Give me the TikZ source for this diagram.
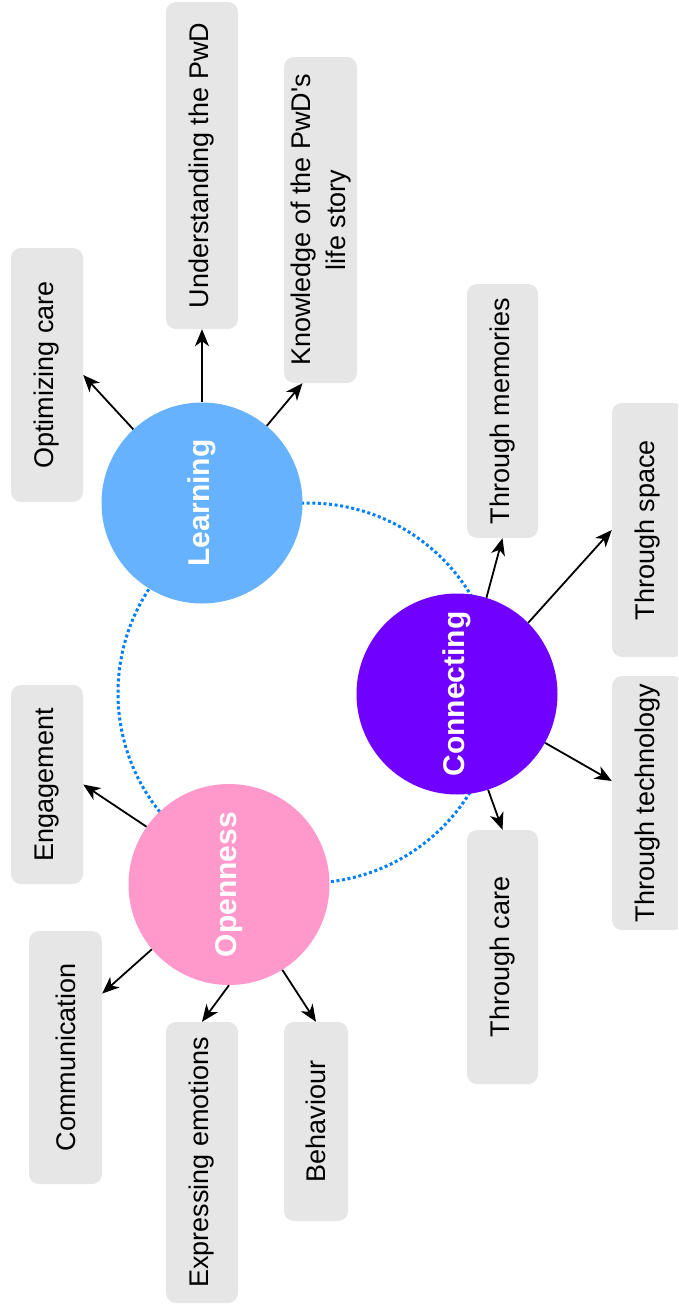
\documentclass[tikz,border=0pt]{standalone}
\usepackage{fontspec}
\setmainfont{Liberation Sans}
\usetikzlibrary{arrows.meta}
\definecolor{ringblue}{HTML}{007FFF}
\definecolor{learnblue}{HTML}{66B2FF}
\definecolor{connpurple}{HTML}{7000FF}
\definecolor{openpink}{HTML}{FF99CC}
\definecolor{boxgray}{HTML}{E6E6E6}
\begin{document}
\begin{tikzpicture}[x=1pt,y=-1pt,
  hub/.style={circle,minimum size=201pt,inner sep=0pt,text=white,
    font=\fontsize{30}{36}\selectfont\bfseries},
  leaf/.style={fill=boxgray,rounded corners=10pt,inner sep=0pt,
    font=\fontsize{27}{35}\selectfont},
  arr/.style={line width=1.8pt,-{Stealth[length=17pt,width=14pt,inset=5pt]}}]
\useasboundingbox (0,0) rectangle (678,1304);
\clip (0,0) rectangle (678,1304);

% dotted ring linking the three hubs
\draw[ringblue,line width=3pt,dash pattern=on 3pt off 2.6pt] (308,693) circle [radius=190pt];

% hubs
\node[hub,fill=learnblue]  (L) at (202,503) {\rotatebox{90}{Learning}};
\node[hub,fill=connpurple] (C) at (457,694) {\rotatebox{90}{Connecting}};
\node[hub,fill=openpink]   (O) at (229,884.5) {\rotatebox{90}{Openness}};

% leaves
\node[leaf,minimum width=72pt,minimum height=254pt] (opt) at (47,375) {\rotatebox{90}{Optimizing care}};
\node[leaf,minimum width=72pt,minimum height=327pt] (und) at (202,165.5) {\rotatebox{90}{Understanding the PwD}};
\node[leaf,minimum width=73pt,minimum height=326pt] (kno) at (320.5,220) {\rotatebox{90}{\begin{tabular}{@{}c@{}}Knowledge of the PwD\textquotesingle s\\life story\end{tabular}}};
\node[leaf,minimum width=71pt,minimum height=254pt] (mem) at (502.5,411) {\rotatebox{90}{Through memories}};
\node[leaf,minimum width=72pt,minimum height=254pt] (spc) at (648,530) {\rotatebox{90}{Through space}};
\node[leaf,minimum width=72pt,minimum height=254pt] (tec) at (648,803) {\rotatebox{90}{Through technology}};
\node[leaf,minimum width=71pt,minimum height=254pt] (car) at (502.5,957) {\rotatebox{90}{Through care}};
\node[leaf,minimum width=72pt,minimum height=199pt] (eng) at (47,784.5) {\rotatebox{90}{Engagement}};
\node[leaf,minimum width=73pt,minimum height=253pt] (com) at (65.5,1057.5) {\rotatebox{90}{Communication}};
\node[leaf,minimum width=72pt,minimum height=281pt] (exp) at (202,1162.5) {\rotatebox{90}{Expressing emotions}};
\node[leaf,minimum width=64pt,minimum height=199pt] (beh) at (316,1121.5) {\rotatebox{90}{Behaviour}};

% connectors
\draw[arr] (L.133) -- (opt.east);
\draw[arr] (L.90) -- (und.south);
\draw[arr] (L.50) -- ([xshift=-18pt]kno.south);
\draw[arr] (C.73) -- (mem.south);
\draw[arr] (C.45) -- (spc.west);
\draw[arr] (C.-29) -- ([yshift=22pt]tec.west);
\draw[arr] (C.-72) -- (car.north);
\draw[arr] (O.145) -- (eng.east);
\draw[arr] (O.220) -- ([yshift=64pt]com.east);
\draw[arr] (O.270) -- (exp.north);
\draw[arr] (O.-58) -- (beh.north);
\end{tikzpicture}
\end{document}
